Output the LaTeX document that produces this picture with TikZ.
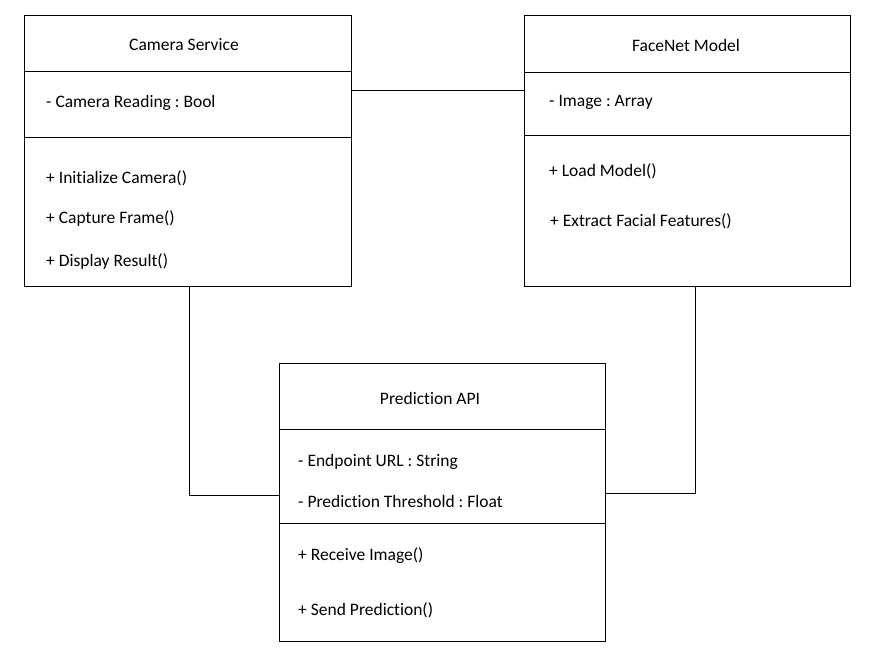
\documentclass[tikz,border=0pt]{standalone}
\usepackage{fontspec}
\setmainfont{Carlito}[Ligatures=CommonOff]
\usetikzlibrary{positioning}

\begin{document}
\frenchspacing
\begin{tikzpicture}[x=1pt, y=-1pt,
    classbox/.style={draw, line width=0.9pt, inner sep=0pt},
    title/.style={font=\fontsize{17.5}{20}\selectfont},
    member/.style={anchor=west, inner sep=0pt, font=\fontsize{17.5}{20}\selectfont}]
    \useasboundingbox (0,0) rectangle (877,662);

    % Camera Service
    \node[classbox, minimum width=327pt, minimum height=271pt] (cam) at (187.5,150.5) {};
    \draw[line width=0.9pt] (24,71) -- (351,71);
    \draw[line width=0.9pt] (24,137) -- (351,137);
    \node[title] (camtitle) at (184,45) {Camera Service};
    \node[member] (camattr) at (46,102.5) {- Camera Reading : Bool};
    \node[member] (camop1) at (46,178.5) {+ Initialize Camera()};
    \node[member] (camop2) at (46,218.5) {+ Capture Frame()};
    \node[member] (camop3) at (46,261.5) {+ Display Result()};

    % FaceNet Model
    \node[classbox, minimum width=326pt, minimum height=271pt] (face) at (687,150.5) {};
    \draw[line width=0.9pt] (524,72) -- (850,72);
    \draw[line width=0.9pt] (524,135) -- (850,135);
    \node[title] (facetitle) at (686,45) {FaceNet Model};
    \node[member] (faceattr) at (549,102.5) {- Image : Array};
    \node[member] (faceop1) at (549,171.5) {+ Load Model()};
    \node[member] (faceop2) at (550,221.5) {+ Extract Facial Features()};

    % Prediction API
    \node[classbox, minimum width=326pt, minimum height=278pt] (pred) at (442,502) {};
    \draw[line width=0.9pt] (279,429) -- (605,429);
    \draw[line width=0.9pt] (279,523) -- (605,523);
    \node[title] (predtitle) at (430,398) {Prediction API};
    \node[member] (predattr1) at (298,461.5) {- Endpoint URL : String};
    \node[member] (predattr2) at (298,501.5) {- Prediction Threshold : Float};
    \node[member] (predop1) at (298,555.5) {+ Receive Image()};
    \node[member] (predop2) at (298,610.5) {+ Send Prediction()};

    % Associations
    \draw[line width=0.9pt] ([yshift=60.5pt]cam.east) -- ([yshift=60.5pt]face.west);
    \draw[line width=0.9pt] ([xshift=1.5pt]cam.south) |- ([yshift=7pt]pred.west);
    \draw[line width=0.9pt] ([xshift=8pt]face.south) |- ([yshift=9pt]pred.east);
\end{tikzpicture}
\end{document}
